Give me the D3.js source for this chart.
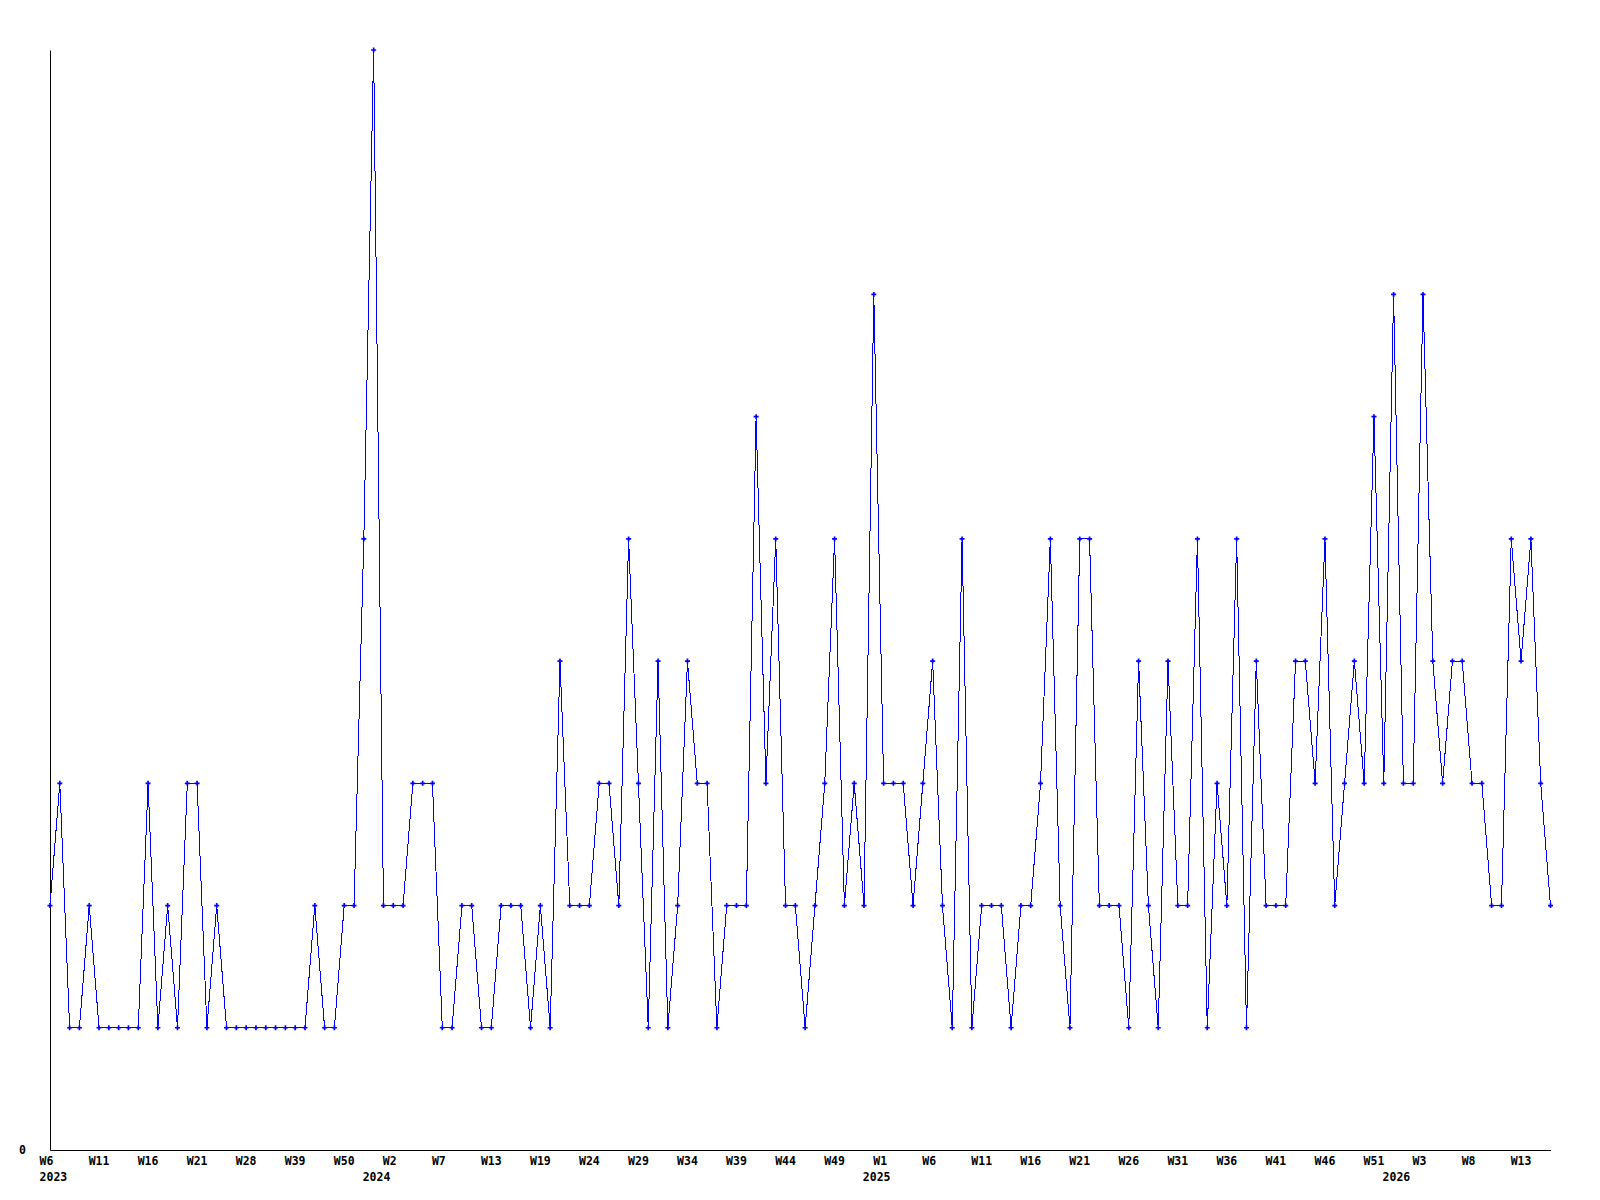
<!DOCTYPE html>
<html>
<head>
<meta charset="utf-8">
<script src="https://cdn.jsdelivr.net/npm/d3@7"></script>
<style>
  html, body { margin: 0; padding: 0; background: #fff; }
  svg text { font-family: "DejaVu Sans Mono", "Liberation Mono", monospace; font-weight: bold; font-size: 11.5px; fill: #000; }
</style>
</head>
<body>
<div id="chart"></div>
<script>
// week numbers per year, in the order of the points (some weeks of 2023/2024 have no point)
const weeks2023 = [6, 7, 8, 9, 10, 11, 12, 13, 14, 15, 16, 17, 18, 19, 20, 21, 22, 23, 25, 27, 28, 30, 33, 35, 37, 39, 41, 44, 46, 48, 50, 51, 52, 53];
const weeks2024 = [1, 2, 3, 4, 5, 6, 7, 8, 9, 10, 12, 13, 14, 15, 16, 18, 19, 20, 21, 22, 23, 24, 25, 26, 27, 28, 29, 30, 31, 32, 33, 34, 35, 36, 37, 38, 39, 40, 41, 42, 43, 44, 45, 46, 47, 48, 49, 50, 51, 52, 53];
const weeks2025 = [1, 2, 3, 4, 5, 6, 7, 8, 9, 10, 11, 12, 13, 14, 15, 16, 17, 18, 19, 20, 21, 22, 23, 24, 25, 26, 27, 28, 29, 30, 31, 32, 33, 34, 35, 36, 37, 38, 39, 40, 41, 42, 43, 44, 45, 46, 47, 48, 49, 50, 51, 52, 53];
const weeks2026 = [1, 2, 3, 4, 5, 6, 7, 8, 9, 10, 11, 12, 13, 14, 15, 16];
const years = ["2023", "2024", "2025", "2026"];

const counts = [
    2, 3, 1, 1, 2, 1, 1, 1, 1, 1,
    3, 1, 2, 1, 3, 3, 1, 2, 1, 1,
    1, 1, 1, 1, 1, 1, 1, 2, 1, 1,
    2, 2, 5, 9, 2, 2, 2, 3, 3, 3,
    1, 1, 2, 2, 1, 1, 2, 2, 2, 1,
    2, 1, 4, 2, 2, 2, 3, 3, 2, 5,
    3, 1, 4, 1, 2, 4, 3, 3, 1, 2,
    2, 2, 6, 3, 5, 2, 2, 1, 2, 3,
    5, 2, 3, 2, 7, 3, 3, 3, 2, 3,
    4, 2, 1, 5, 1, 2, 2, 2, 1, 2,
    2, 3, 5, 2, 1, 5, 5, 2, 2, 2,
    1, 4, 2, 1, 4, 2, 2, 5, 1, 3,
    2, 5, 1, 4, 2, 2, 2, 4, 4, 3,
    5, 2, 3, 4, 3, 6, 3, 7, 3, 3,
    7, 4, 3, 4, 4, 3, 3, 2, 2, 5,
    4, 5, 3, 2
];

const width = 1600;
const height = 1200;
const plotLeft = 50, plotRight = 1550.5, plotTop = 50, plotBottom = 1150;

// build the categories
const cats = [];
[weeks2023, weeks2024, weeks2025, weeks2026].forEach((ws, yi) => {
    ws.forEach((w, j) => cats.push({ key: years[yi] + "-W" + w, week: "W" + w, year: years[yi], first: j === 0 }));
});
const data = cats.map((c, i) => ({ key: c.key, value: counts[i] }));

const svg = d3.select("#chart")
    .append("svg")
    .attr("width", width)
    .attr("height", height);

const x = d3.scalePoint()
    .domain(cats.map(c => c.key))
    .range([plotLeft, plotRight]);

const y = d3.scaleLinear()
    .domain([0, 9])
    .range([plotBottom, plotTop]);

// y axis
const yAxis = svg.append("g")
    .attr("transform", `translate(${plotLeft},0)`)
    .call(d3.axisLeft(y).tickValues([0]).tickSize(0).tickSizeOuter(0).tickPadding(24).tickFormat(d3.format("d")));
yAxis.attr("font-family", null).attr("font-size", null);
yAxis.select(".domain").attr("stroke", "#000");
yAxis.selectAll("text").attr("dy", "0.3em");

// x axis
const tickKeys = cats.filter((c, i) => i % 5 === 0).map(c => c.key);
const xAxis = svg.append("g")
    .attr("transform", `translate(0,${plotBottom})`)
    .call(d3.axisBottom(x).tickValues(tickKeys).tickSize(0).tickSizeOuter(0).tickFormat(""));
xAxis.select(".domain").attr("stroke", "#000");
xAxis.attr("font-family", null).attr("font-size", null);

const labels = svg.append("g").attr("class", "labels");
cats.forEach((c, i) => {
    if (i % 5 === 0) {
        labels.append("text")
            .attr("x", x(c.key) - 10.4)
            .attr("y", plotBottom + 15)
            .text(c.week);
    }
    if (c.first) {
        labels.append("text")
            .attr("x", Math.max(x(c.key) - 20.8, plotLeft - 10.4))
            .attr("y", plotBottom + 30.5)
            .text(c.year);
    }
});

// line
const line = d3.line()
    .x(d => x(d.key))
    .y(d => y(d.value));

svg.append("path")
    .datum(data)
    .attr("fill", "none")
    .attr("stroke", "#0000ff")
    .attr("stroke-width", 1)
    .attr("shape-rendering", "crispEdges")
    .attr("d", line);

// point markers
svg.append("g")
    .selectAll("path")
    .data(data)
    .join("path")
    .attr("transform", d => `translate(${x(d.key)},${y(d.value)})`)
    .attr("d", d3.symbol(d3.symbolCross, 14))
    .attr("fill", "#0000ff");
</script>
</body>
</html>
